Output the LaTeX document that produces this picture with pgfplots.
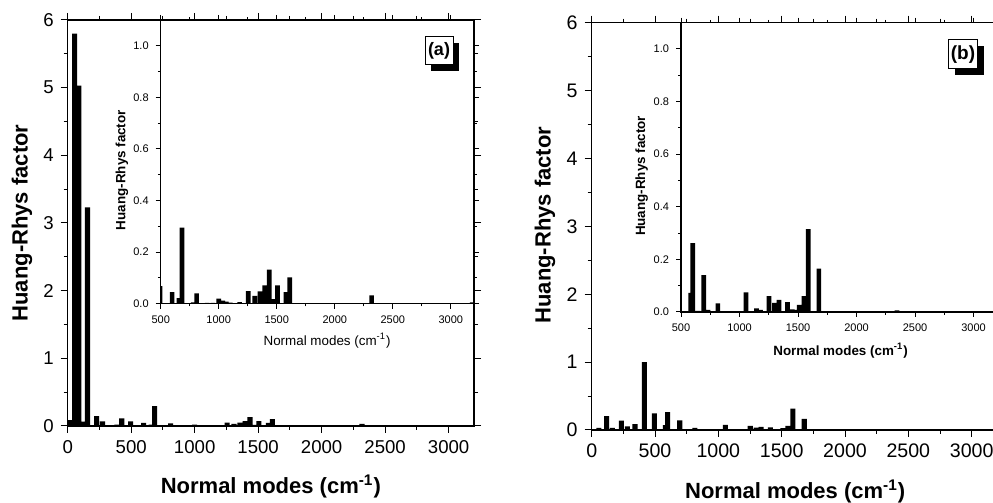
\documentclass[border=0pt]{standalone}
\usepackage{fontspec}
\setmainfont{Liberation Sans}
\usepackage{pgfplots}
\usepackage{pgfplotstable}
\pgfplotsset{compat=1.18}
\usetikzlibrary{shadows}

% Huang-Rhys factors, set (a)
\pgfplotstableread{
x y
22 0.086
55 5.80
87 5.03
114 0.064
156 3.23
228 0.145
274 0.07
388 0.02
426 0.113
495 0.068
598 0.045
658 0.022
684 0.295
780 0.005
810 0.04
900 0.003
950 0.003
1000 0.02
1035 0.012
1065 0.008
1100 0.004
1180 0.006
1255 0.049
1310 0.030
1356 0.048
1397 0.071
1436 0.132
1471 0.018
1506 0.071
1580 0.045
1612 0.102
2318 0.032
3185 0.005
}\dataA

% Huang-Rhys factors, set (b)
\pgfplotstableread{
x y
56 0.03
118 0.206
163 0.03
234 0.137
281 0.054
342 0.088
416 1.0
495 0.245
550 0.003
582 0.073
600 0.262
645 0.004
695 0.14
732 0.008
815 0.033
960 0.003
1000 0.003
1055 0.075
1145 0.014
1180 0.008
1252 0.06
1298 0.035
1338 0.046
1410 0.038
1450 0.01
1480 0.008
1510 0.027
1550 0.06
1588 0.315
1678 0.165
2345 0.006
}\dataB

\pgfplotsset{
  hrbase/.style={
    scale only axis, anchor=south west,
    xmax=3200, ymin=0,
    ybar, bar width=40,
    tick align=outside,
    axis line style={line width=0.6pt},
    every tick/.style={black, line width=0.5pt},
    /pgf/number format/assume math mode=true,
    /pgf/number format/1000 sep={},
    axis background/.style={fill=white},
  },
  hrmain/.style={
    hrbase, xmin=0, ymax=6,
    xtick={0,500,...,3000}, ytick={0,1,...,6},
    minor x tick num=1, minor y tick num=1,
    major tick length=3.5pt, minor tick length=2pt,
    xlabel={\bfseries Normal modes (cm\textsuperscript{-1})},
    ylabel={\bfseries Huang-Rhys factor},
    label style={font=\fontsize{11}{13}\selectfont},
  },
  hrinset/.style={
    hrbase, xmin=500, ymax=1.1,
    xtick={500,1000,...,3000}, ytick={0,0.2,...,1.0},
    minor x tick num=1, minor y tick num=1,
    major tick length=2.5pt, minor tick length=1.4pt,
    tick label style={font=\fontsize{5.5}{6.5}\selectfont},
    yticklabel style={/pgf/number format/.cd, fixed, fixed zerofill, precision=1},
    ylabel={\bfseries Huang-Rhys factor},
    label style={font=\fontsize{6.7}{8}\selectfont},
  },
}

\begin{document}
\begin{tikzpicture}
% ---------- panel (a) ----------
\begin{axis}[hrmain, at={(33.85pt,38.5pt)}, width=203.15pt, height=203pt,
    tick label style={font=\fontsize{9.3}{11}\selectfont},
    xlabel style={at={(axis description cs:0.5,-0.15)}, anchor=center},
    ylabel style={at={(axis description cs:-0.1125,0.5)}, anchor=center}]
\addplot[fill=black, draw=none] table {\dataA};
\end{axis}
\begin{axis}[hrinset, at={(80.35pt,99.65pt)}, width=156.65pt, height=141.85pt,
    xlabel={Normal modes (cm\textsuperscript{-1})},
    xlabel style={at={(axis description cs:0.531,-0.1315)}, anchor=center},
    ylabel style={at={(axis description cs:-0.1235,0.471)}, anchor=center}]
\addplot[fill=black, draw=none] table {\dataA};
\end{axis}
\node[draw, fill=white, line width=0.5pt, minimum size=14pt, inner sep=1pt,
      font=\bfseries\fontsize{9}{10}\selectfont,
      drop shadow={shadow xshift=3pt, shadow yshift=-3pt, opacity=1, fill=black}]
      at (219.5pt,226pt) {(a)};

% ---------- panel (b) ----------
\begin{axis}[hrmain, at={(295.85pt,36.5pt)}, width=202.65pt, height=203.65pt,
    tick label style={font=\fontsize{9.8}{11}\selectfont},
    xlabel style={at={(axis description cs:0.502,-0.152)}, anchor=center},
    ylabel style={at={(axis description cs:-0.115,0.503)}, anchor=center}]
\addplot[fill=black, draw=none] table {\dataB};
\end{axis}
\begin{axis}[hrinset, at={(340.5pt,95.5pt)}, width=158pt, height=144.65pt,
    xlabel={\bfseries Normal modes (cm\textsuperscript{-1})},
    xlabel style={at={(axis description cs:0.505,-0.135)}, anchor=center},
    ylabel style={at={(axis description cs:-0.1245,0.47)}, anchor=center}]
\addplot[fill=black, draw=none, restrict x to domain=540:3200] table {\dataB};
\end{axis}
\node[draw, fill=white, line width=0.5pt, minimum size=14.5pt, inner sep=1pt,
      font=\bfseries\fontsize{9.5}{10}\selectfont,
      drop shadow={shadow xshift=3pt, shadow yshift=-3pt, opacity=1, fill=black}]
      at (481.5pt,224.25pt) {(b)};

\pgfresetboundingbox
\path[use as bounding box] (0,0) rectangle (496.5pt,251.5pt);
\end{tikzpicture}
\end{document}
